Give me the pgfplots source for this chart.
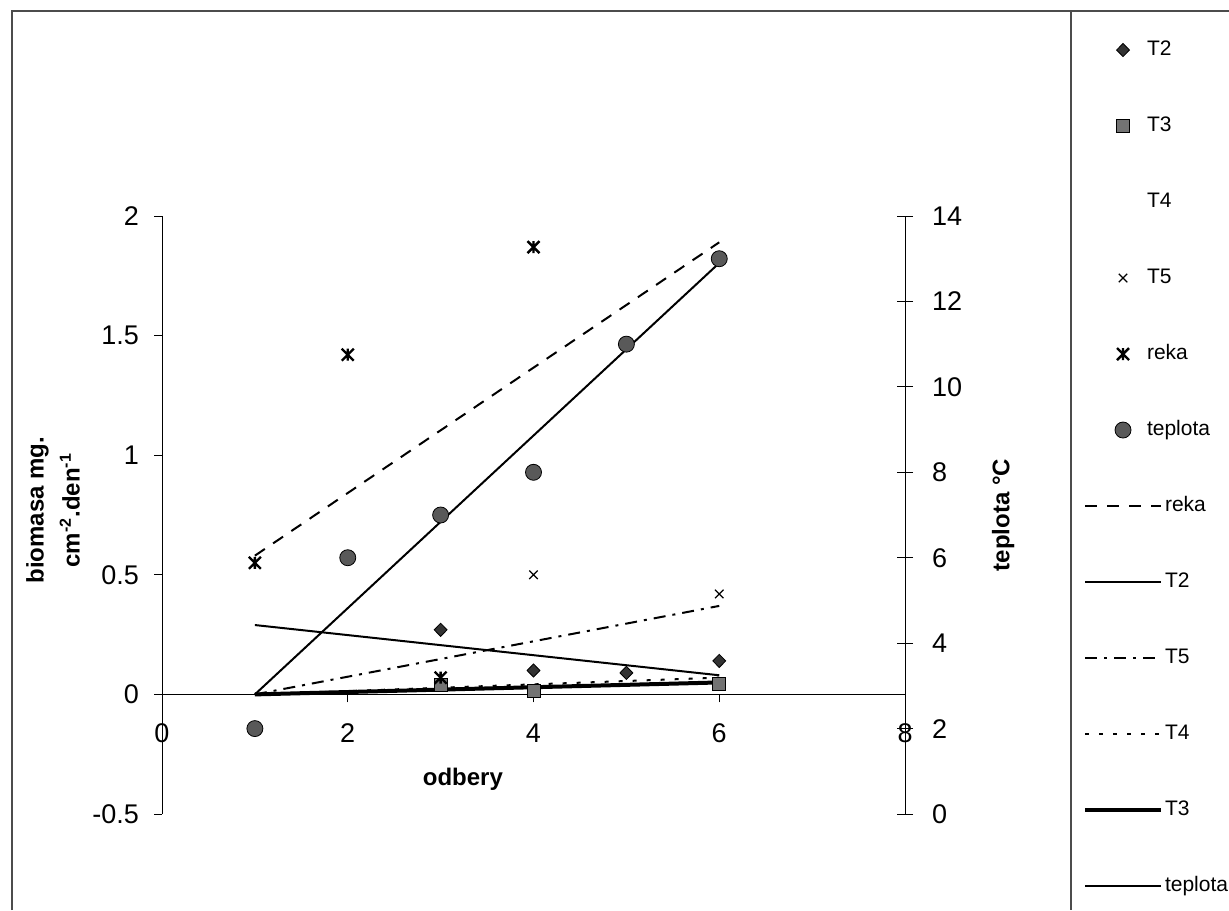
\documentclass[border=0pt]{standalone}
\usepackage{fontspec}
\setmainfont{Liberation Sans}
\usepackage{pgfplots}
\pgfplotsset{compat=1.18}

\pgfdeclareplotmark{xstar}{%
  \pgfpathmoveto{\pgfqpoint{-\pgfplotmarksize}{-\pgfplotmarksize}}%
  \pgfpathlineto{\pgfqpoint{\pgfplotmarksize}{\pgfplotmarksize}}%
  \pgfpathmoveto{\pgfqpoint{-\pgfplotmarksize}{\pgfplotmarksize}}%
  \pgfpathlineto{\pgfqpoint{\pgfplotmarksize}{-\pgfplotmarksize}}%
  \pgfpathmoveto{\pgfqpoint{0pt}{-\pgfplotmarksize}}%
  \pgfpathlineto{\pgfqpoint{0pt}{\pgfplotmarksize}}%
  \pgfusepathqstroke}

\begin{document}
\begin{tikzpicture}
\useasboundingbox (0,0) rectangle (614.5pt,-455pt);
\draw[line width=0.6pt, black!70] (6pt,-455pt) -- (6pt,-5.5pt) -- (614.5pt,-5.5pt);
\draw[line width=0.6pt, black!70] (535.5pt,-5.5pt) -- (535.5pt,-455pt);

% ---------- main (biomasa) axis ----------
\begin{axis}[
  at={(81pt,-407pt)}, anchor=south west,
  scale only axis, width=371.5pt, height=299pt,
  xmin=0, xmax=8, ymin=-0.5, ymax=2,
  axis x line=middle, axis y line=left,
  axis line style={-, line width=0.5pt},
  hide obscured x ticks=false, hide obscured y ticks=false,
  xtick={0,2,4,6,8}, ytick={-0.5,0,0.5,1,1.5,2},
  tick align=outside, major tick length=4pt,
  tick style={line width=0.5pt, black},
  /pgf/number format/assume math mode=true,
  /pgf/number format/fixed,
  tick label style={font=\fontsize{13.5}{16}\selectfont},
  xticklabel style={yshift=-7pt},
  yticklabel style={xshift=-4pt},
  xlabel={\textbf{odbery}},
  xlabel style={at={(axis description cs:0.405,0.0585)}, anchor=center, font=\fontsize{12}{15}\selectfont},
  ylabel={\textbf{biomasa mg.}\\\textbf{cm\textsuperscript{-2}.den\textsuperscript{-1}}},
  ylabel style={at={(axis description cs:-0.1467,0.508)}, anchor=center, align=center, rotate=0, font=\fontsize{12}{18}\selectfont},
  clip=false,
]
% trend lines
\addplot[black, line width=1pt, dash pattern=on 6pt off 5pt] coordinates {(1,0.58) (6,1.89)};
\addplot[black, line width=1pt] coordinates {(1,0.29) (6,0.08)};
\addplot[black, line width=1pt, dash pattern=on 6pt off 3.5pt on 1.5pt off 3.5pt] coordinates {(1,0.0) (6,0.37)};
\addplot[black, line width=1pt, dash pattern=on 2pt off 5pt] coordinates {(1,0.0) (6,0.07)};
\addplot[black, line width=2pt] coordinates {(1,0.0) (6,0.05)};
% data markers
\addplot[only marks, mark=diamond*, mark size=3.3pt, mark options={xscale=1.3, draw=black, fill=black!80}] coordinates {(3,0.27) (4,0.10) (5,0.09) (6,0.14)};
\addplot[only marks, mark=square*, mark size=3.2pt, mark options={draw=black, fill=black!55}] coordinates {(3,0.04) (4,0.015) (6,0.045)};
\addplot[only marks, mark=x, mark size=3pt, line width=0.6pt, black] coordinates {(4,0.50) (6,0.42)};
\addplot[only marks, mark=xstar, mark size=3pt, line width=1.2pt, black] coordinates {(1,0.55) (2,1.42) (3,0.07) (4,1.87)};
\end{axis}

% ---------- secondary (teplota) axis ----------
\begin{axis}[
  at={(81pt,-407pt)}, anchor=south west,
  scale only axis, width=371.5pt, height=299pt,
  xmin=0, xmax=8, ymin=0, ymax=14,
  axis y line=right, axis x line=none,
  axis line style={-, line width=0.5pt},
  ytick={0,2,4,6,8,10,12,14},
  tick align=center, major tick length=8pt,
  tick style={line width=0.5pt, black},
  /pgf/number format/assume math mode=true,
  tick label style={font=\fontsize{13.5}{16}\selectfont},
  yticklabel style={xshift=6pt},
  ylabel={\textbf{teplota °C}},
  ylabel style={at={(axis description cs:1.132,0.5)}, anchor=center, rotate=0, font=\fontsize{12}{15}\selectfont},
  clip=false,
  legend style={at={(axis description cs:1.2396,1.2926)}, anchor=north west,
    draw=none, fill=none, inner sep=0pt, outer sep=0pt,
    font=\fontsize{10.5}{12}\selectfont,
    row sep=29pt, column sep=1pt,
    nodes={inner sep=0pt, text height=7.2pt, text depth=1.8pt}},
  legend cell align=left,
  legend image code/.code={\draw[mark repeat=2,mark phase=2,#1] plot coordinates {(0pt,0pt) (19pt,0pt) (38pt,0pt)};},
]
\addplot[black, line width=1pt, forget plot] coordinates {(1,2.8) (6,12.9)};
\addplot[only marks, mark=*, mark size=4pt, mark options={draw=black, fill=black!65}, forget plot] coordinates {(1,2) (2,6) (3,7) (4,8) (5,11) (6,13)};

\addlegendimage{only marks, mark=diamond*, mark size=3.3pt, mark options={xscale=1.3, draw=black, fill=black!80}}
\addlegendentry{\hspace*{-9pt}T2}
\addlegendimage{only marks, mark=square*, mark size=3.2pt, mark options={draw=black, fill=black!55}}
\addlegendentry{\hspace*{-9pt}T3}
\addlegendimage{only marks, mark=*, mark size=0.01pt, mark options={draw=white, fill=white}}
\addlegendentry{\hspace*{-9pt}T4}
\addlegendimage{only marks, mark=x, mark size=3pt, line width=0.6pt, black}
\addlegendentry{\hspace*{-9pt}T5}
\addlegendimage{only marks, mark=xstar, mark size=3pt, line width=1.2pt, black}
\addlegendentry{\hspace*{-9pt}reka}
\addlegendimage{only marks, mark=*, mark size=4pt, mark options={draw=black, fill=black!65}}
\addlegendentry{\hspace*{-9pt}teplota}
\addlegendimage{black, line width=1pt, dash pattern=on 6pt off 5pt}
\addlegendentry{reka}
\addlegendimage{black, line width=1pt}
\addlegendentry{T2}
\addlegendimage{black, line width=1pt, dash pattern=on 6pt off 3.5pt on 1.5pt off 3.5pt}
\addlegendentry{T5}
\addlegendimage{black, line width=1pt, dash pattern=on 2pt off 5pt}
\addlegendentry{T4}
\addlegendimage{black, line width=2pt}
\addlegendentry{T3}
\addlegendimage{black, line width=1pt}
\addlegendentry{teplota}
\end{axis}
\end{tikzpicture}
\end{document}
